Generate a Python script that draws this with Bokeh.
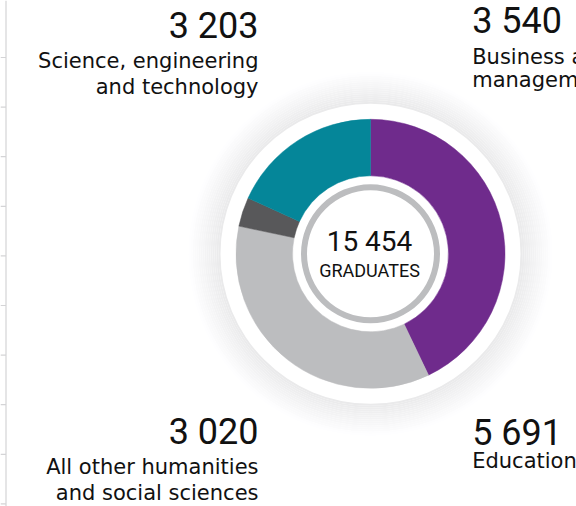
import numpy as np
from bokeh.plotting import figure
from bokeh.models import Range1d, ColumnDataSource
from bokeh.core.properties import value
from bokeh.embed import file_html
from bokeh.resources import INLINE

# ---- data ----
categories = ["Science, engineering\nand technology", "Business and\nmanagement",
              "All other humanities\nand social sciences", "Education"]
graduates = [3203, 3540, 3020, 5691]

# donut slices as drawn (share of the ring, %), clockwise from 12 o'clock
slice_shares = [42.9, 35.4, 3.5, 18.2]
slice_colors = ["#6f2b8c", "#bcbdbf", "#58585a", "#058699"]

center_caption = "GRADUATES"

# ---- layout ----
W, H = 576, 506
def px(x):  # page x -> data x
    return x
def py(y):  # page y -> data y
    return H - y

cx, cy = px(370), py(253.3)
R_OUT, R_IN = 134.5, 78

p = figure(width=W, height=H, x_range=Range1d(0, W), y_range=Range1d(0, H),
           output_backend="svg", toolbar_location=None, min_border=0,
           x_axis_location=None, y_axis_location=None)
p.grid.visible = False
p.outline_line_color = None
p.background_fill_color = "white"
p.border_fill_color = "white"

# faint table rule at the left edge of the page
rule_rows = np.arange(57, 506, 49.6)
p.segment(x0=[px(5.5)], y0=[py(0)], x1=[px(5.5)], y1=[py(506)],
          line_color="#d4d4d6", line_width=1.2)
p.segment(x0=[px(0)] * len(rule_rows), y0=[py(r) for r in rule_rows],
          x1=[px(5.5)] * len(rule_rows), y1=[py(r) for r in rule_rows],
          line_color="#d4d4d6", line_width=1.2)

# soft halo around the donut
n = 16
r0, r1 = 150, 182
for i in range(n):
    a = r0 + (r1 - r0) * i / n
    b = r0 + (r1 - r0) * (i + 1) / n
    t = i / (n - 1)
    g = int(round(234 + (254 - 234) * t))
    p.annulus(x=cx, y=cy, inner_radius=a, outer_radius=b,
              fill_color=(g, g, min(g + 1, 255)), line_color=None)

# donut slices
shares = np.array(slice_shares, dtype=float)
cum = np.concatenate([[0], np.cumsum(shares)]) / shares.sum() * 2 * np.pi
start_cw = np.pi / 2 - cum[:-1]
end_cw = np.pi / 2 - cum[1:]
src = ColumnDataSource(dict(start=end_cw, end=start_cw, color=slice_colors))
p.annular_wedge(x=cx, y=cy, inner_radius=R_IN, outer_radius=R_OUT,
                start_angle="start", end_angle="end", direction="anticlock",
                fill_color="color", line_color="color", line_width=0.5, source=src)

# inner grey ring
p.annulus(x=cx, y=cy, inner_radius=63.5, outer_radius=69.5,
          fill_color="#bcbdbf", line_color=None)

def fmt(v):
    return f"{v:,}".replace(",", " ")

# text anchors below are the visual middle of each line (page pixels)
total = sum(graduates)
p.text(x=[px(369)], y=[py(241)], text=[fmt(total)], text_align="center",
       text_baseline="alphabetic", text_font=value("Roboto"),
       text_font_size="28px", text_color="#111111")
p.text(x=[px(369)], y=[py(270)], text=[center_caption], text_align="center",
       text_baseline="alphabetic", text_font=value("Roboto"),
       text_font_size="18px", text_color="#111111")

# labels: (x, align, number middle, first line middle, line step)
label_pos = [
    (258, "right", 25.0, 60.0, 26),
    (471.7, "left", 20.0, 56.5, 23),
    (258, "right", 431.0, 466.0, 26),
    (471.7, "left", 432.0, 460.0, 26),
]
for (lx, al, nb, tb, step), cat, v in zip(label_pos, categories, graduates):
    p.text(x=[px(lx)], y=[py(nb)], text=[fmt(v)], text_align=al,
           text_baseline="alphabetic", text_font=value("Roboto"),
           text_font_size="36px", text_color="#111111")
    for k, line in enumerate(cat.split("\n")):
        p.text(x=[px(lx)], y=[py(tb + k * step)], text=[line], text_align=al,
               text_baseline="alphabetic", text_font=value("DejaVu Sans"),
               text_font_size="21px", text_color="#111111")

open("out.html", "w").write(file_html(p, INLINE))
